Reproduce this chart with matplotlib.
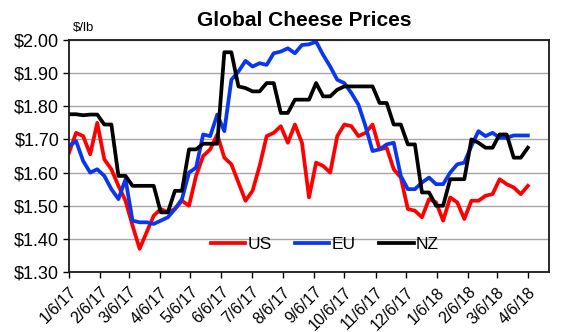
import numpy as np
import pandas as pd
import matplotlib
matplotlib.use("Agg")
import matplotlib.pyplot as plt

plt.rcParams['font.family'] = ['Liberation Sans', 'DejaVu Sans']

# weekly prices, $/lb
dates = pd.date_range('2017-01-06', periods=66, freq='7D')

us = [1.66, 1.72, 1.71, 1.655, 1.75, 1.64, 1.61, 1.56, 1.515, 1.44,
      1.37, 1.42, 1.47, 1.49, 1.48, 1.49, 1.515, 1.50, 1.59, 1.65,
      1.67, 1.715, 1.645, 1.625, 1.57, 1.515, 1.545, 1.62, 1.71, 1.72,
      1.74, 1.69, 1.745, 1.69, 1.525, 1.63, 1.62, 1.60, 1.71, 1.745,
      1.74, 1.71, 1.72, 1.745, 1.67, 1.675, 1.61, 1.585, 1.49, 1.485,
      1.465, 1.52, 1.51, 1.455, 1.525, 1.51, 1.46, 1.515, 1.515, 1.53,
      1.535, 1.58, 1.565, 1.555, 1.535, 1.56]

eu = [1.68, 1.695, 1.635, 1.60, 1.61, 1.59, 1.55, 1.52, 1.58, 1.455,
      1.45, 1.45, 1.445, 1.455, 1.465, 1.49, 1.52, 1.60, 1.615, 1.715,
      1.71, 1.775, 1.725, 1.88, 1.905, 1.937, 1.92, 1.93, 1.925, 1.96,
      1.965, 1.975, 1.96, 1.985, 1.987, 1.995, 1.955, 1.92, 1.88, 1.87,
      1.84, 1.805, 1.74, 1.665, 1.67, 1.685, 1.69, 1.59, 1.55, 1.55,
      1.57, 1.585, 1.565, 1.565, 1.60, 1.625, 1.63, 1.68, 1.725, 1.71,
      1.72, 1.705, 1.705, 1.712, 1.712, 1.712]

nz = [1.776, 1.776, 1.773, 1.775, 1.775, 1.745, 1.745, 1.59, 1.59, 1.56,
      1.56, 1.56, 1.56, 1.48, 1.48, 1.545, 1.545, 1.67, 1.67, 1.687,
      1.687, 1.687, 1.963, 1.963, 1.86, 1.855, 1.845, 1.845, 1.87, 1.87,
      1.78, 1.78, 1.82, 1.82, 1.82, 1.87, 1.83, 1.83, 1.85, 1.86,
      1.86, 1.86, 1.86, 1.86, 1.81, 1.81, 1.745, 1.745, 1.685, 1.685,
      1.54, 1.54, 1.50, 1.50, 1.58, 1.58, 1.58, 1.70, 1.69, 1.675,
      1.675, 1.715, 1.715, 1.645, 1.645, 1.675]

tick_dates = pd.date_range('2017-01-01', periods=16, freq='MS') + pd.Timedelta(days=5)
tick_labels = [f"{d.month}/{d.day}/{d.year % 100}" for d in tick_dates]
y_ticks = np.arange(1.30, 2.001, 0.10)

fig = plt.figure(figsize=(5.69, 3.32), dpi=100)
ax = fig.add_axes([0.1213, 0.1807, 0.8436, 0.6988])

ax.plot(dates, us, color='#FF0000', lw=2.7, label='US')
ax.plot(dates, eu, color='#0A36F2', lw=2.7, label='EU')
ax.plot(dates, nz, color='black', lw=2.7, label='NZ')

ax.set_ylim(1.30, 2.00)
ax.set_yticks(y_ticks)
ax.set_yticklabels([f"\\${v:.2f}" for v in y_ticks], fontsize=13)
ax.set_xlim(dates[0], dates[0] + pd.Timedelta(days=476))
ax.set_xticks(tick_dates)
ax.set_xticklabels(tick_labels, rotation=45, ha='right', rotation_mode='anchor', fontsize=11.5)
ax.tick_params(axis='both', length=4, width=1, pad=3)
ax.tick_params(axis='x', pad=5)

ax.grid(axis='y', color='#A6A6A6', lw=1)
ax.set_axisbelow(True)
for s in ax.spines.values():
    s.set_color('#1a1a1a')
    s.set_linewidth(1.3)

fig.text(0.534, 0.938, 'Global Cheese Prices', ha='center', va='center',
         fontsize=15, fontweight='bold')
fig.text(0.128, 0.915, '\\$/lb', ha='left', va='center', fontsize=9.5)

ax.legend(loc='center', bbox_to_anchor=(0.533, 0.12), ncol=3, frameon=False,
          fontsize=12.5, handlelength=2.0, handletextpad=0.15, columnspacing=1.3)

fig.savefig('out.png', dpi=100)
